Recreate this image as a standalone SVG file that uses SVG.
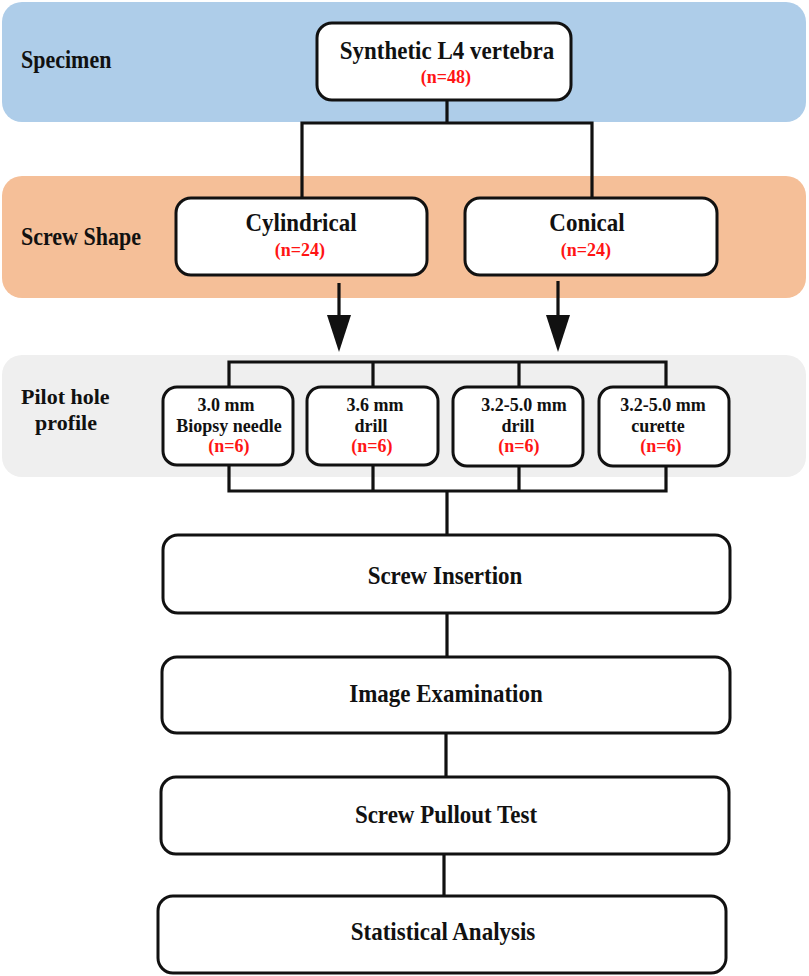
<svg xmlns="http://www.w3.org/2000/svg" width="809" height="976" viewBox="0 0 809 976">
<style>
.band-label{font-family:"Liberation Serif","Times New Roman",serif;font-weight:bold;font-size:22px;fill:#111}
.t{font-family:"Liberation Serif","Times New Roman",serif;font-weight:bold;fill:#111;text-anchor:middle}
.big{font-size:23px}
.small{font-size:18px}
.red{fill:#ff1414}
.box{fill:#fff;stroke:#111;stroke-width:3}
.line{fill:none;stroke:#111;stroke-width:3.2;stroke-linejoin:miter}
</style>
<rect width="809" height="976" fill="#fff"/>
<g id="bands">
<rect id="band-specimen" x="2" y="2" width="804" height="120" rx="20" fill="#aecde9"/>
<rect id="band-shape" x="2" y="176" width="804" height="122" rx="20" fill="#f5bf98"/>
<rect id="band-pilot" x="2" y="355" width="804" height="122" rx="20" fill="#efefef"/>
<text class="band-label" transform="translate(21,68) scale(1,1.12)">Specimen</text>
<text class="band-label" transform="translate(21,245) scale(1,1.12)">Screw Shape</text>
<text class="band-label" x="21" y="404">Pilot hole</text>
<text class="band-label" x="66" y="430" text-anchor="middle">profile</text>
</g>
<g id="connectors">
<path class="line" d="M447 100 V123 M302 198 V123 H592 V198"/>
<path class="line" d="M339 283 V318 M558 281 V318"/>
<polygon points="327,315 351,315 339,352" fill="#111"/>
<polygon points="546,315 570,315 558,352" fill="#111"/>
<path class="line" d="M229 387 V362 H666 V387 M373 362 V387 M519 362 V387"/>
<path class="line" d="M229 465 V491 H666 V466 M373 465 V491 M519 466 V491 M447 491 V535"/>
<path class="line" d="M447 613 V657 M446 733 V777 M444 854 V896"/>
</g>
<g id="node-specimen">
<rect class="box" x="317" y="23" width="254" height="77" rx="15"/>
<text class="t big" transform="translate(447,59) scale(1,1.12)">Synthetic L4 vertebra</text>
<text class="t small red" x="446" y="83">(n=48)</text>
</g>
<g id="node-cylindrical">
<rect class="box" x="176" y="198" width="251" height="77" rx="15"/>
<text class="t big" transform="translate(301,231) scale(1,1.12)">Cylindrical</text>
<text class="t small red" x="300" y="256">(n=24)</text>
</g>
<g id="node-conical">
<rect class="box" x="465" y="198" width="252" height="77" rx="15"/>
<text class="t big" transform="translate(587,231) scale(1,1.12)">Conical</text>
<text class="t small red" x="586" y="256">(n=24)</text>
</g>
<g id="node-biopsy">
<rect class="box" x="163" y="387" width="130" height="78" rx="14"/>
<text class="t small" x="226" y="411">3.0 mm</text>
<text class="t small" x="229" y="431.5">Biopsy needle</text>
<text class="t small red" x="229" y="452">(n=6)</text>
</g>
<g id="node-drill36">
<rect class="box" x="307" y="387" width="131" height="78" rx="14"/>
<text class="t small" x="375" y="411">3.6 mm</text>
<text class="t small" x="371" y="431.5">drill</text>
<text class="t small red" x="372" y="452">(n=6)</text>
</g>
<g id="node-drill3250">
<rect class="box" x="453" y="387" width="130" height="79" rx="14"/>
<text class="t small" x="524" y="411">3.2-5.0 mm</text>
<text class="t small" x="518" y="431.5">drill</text>
<text class="t small red" x="519" y="452">(n=6)</text>
</g>
<g id="node-curette">
<rect class="box" x="599" y="387" width="130" height="79" rx="14"/>
<text class="t small" x="663" y="411">3.2-5.0 mm</text>
<text class="t small" x="658" y="431.5">curette</text>
<text class="t small red" x="661" y="452">(n=6)</text>
</g>
<g id="node-insertion">
<rect class="box" x="163" y="535" width="567" height="78" rx="15"/>
<text class="t big" transform="translate(445,584) scale(1,1.12)">Screw Insertion</text>
</g>
<g id="node-image">
<rect class="box" x="162" y="657" width="568" height="76" rx="15"/>
<text class="t big" transform="translate(446,702) scale(1,1.12)">Image Examination</text>
</g>
<g id="node-pullout">
<rect class="box" x="161" y="777" width="568" height="77" rx="15"/>
<text class="t big" transform="translate(446,823) scale(1,1.12)">Screw Pullout Test</text>
</g>
<g id="node-stats">
<rect class="box" x="158" y="896" width="568" height="77" rx="15"/>
<text class="t big" transform="translate(443,940) scale(1,1.12)">Statistical Analysis</text>
</g>
</svg>
